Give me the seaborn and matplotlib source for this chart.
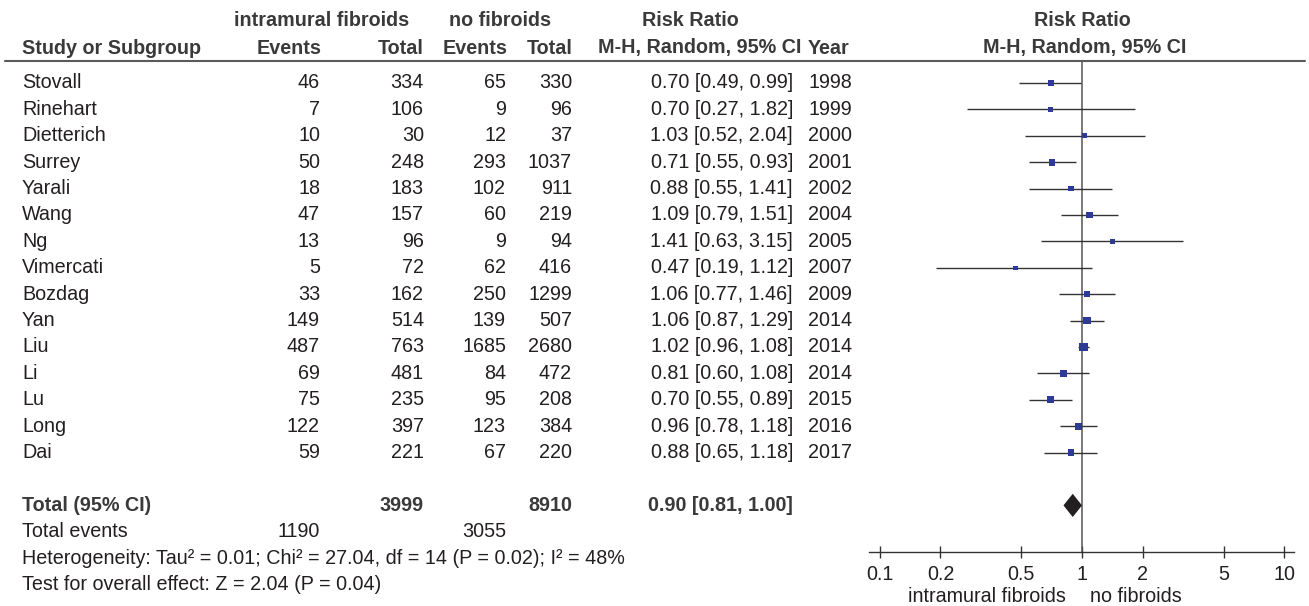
import numpy as np
import pandas as pd
import matplotlib
matplotlib.use("Agg")
import matplotlib.pyplot as plt
import seaborn as sns

# ---- study data -------------------------------------------------------
studies = ["Stovall", "Rinehart", "Dietterich", "Surrey", "Yarali", "Wang", "Ng",
           "Vimercati", "Bozdag", "Yan", "Liu", "Li", "Lu", "Long", "Dai"]
events_fib = [46, 7, 10, 50, 18, 47, 13, 5, 33, 149, 487, 69, 75, 122, 59]
total_fib = [334, 106, 30, 248, 183, 157, 96, 72, 162, 514, 763, 481, 235, 397, 221]
events_nofib = [65, 9, 12, 293, 102, 60, 9, 62, 250, 139, 1685, 84, 95, 123, 67]
total_nofib = [330, 96, 37, 1037, 911, 219, 94, 416, 1299, 507, 2680, 472, 208, 384, 220]
rr = [0.70, 0.70, 1.03, 0.71, 0.88, 1.09, 1.41, 0.47, 1.06, 1.06, 1.02, 0.81, 0.70, 0.96, 0.88]
ci_low = [0.49, 0.27, 0.52, 0.55, 0.55, 0.79, 0.63, 0.19, 0.77, 0.87, 0.96, 0.60, 0.55, 0.78, 0.65]
ci_high = [0.99, 1.82, 2.04, 0.93, 1.41, 1.51, 3.15, 1.12, 1.46, 1.29, 1.08, 1.08, 0.89, 1.18, 1.18]
years = [1998, 1999, 2000, 2001, 2002, 2004, 2005, 2007, 2009, 2014, 2014, 2014, 2015, 2016, 2017]

pooled_rr = 0.90
pooled_low = 0.81
pooled_high = 1.00
tau2 = 0.01
heterogeneity = "Heterogeneity: Tau² = 0.01; Chi² = 27.04, df = 14 (P = 0.02); I² = 48%"
overall_test = "Test for overall effect: Z = 2.04 (P = 0.04)"

tick_values = [0.1, 0.2, 0.5, 1, 2, 5, 10]
tick_labels = ["0.1", "0.2", "0.5", "1", "2", "5", "10"]
favours_left = "intramural fibroids"
favours_right = "no fibroids"

df = pd.DataFrame({"study": studies, "rr": rr, "lo": ci_low, "hi": ci_high})
df["row"] = np.arange(len(df))
# random-effects weights from the CI widths -> square size
se = (np.log(df["hi"]) - np.log(df["lo"])) / 3.92
df["w"] = 1.0 / (se ** 2 + tau2)
side_px = 3.4 + 0.55 * np.sqrt(df["w"])
df["area"] = (side_px * 0.72) ** 2

# ---- figure ----------------------------------------------------------
sns.set_theme(style="white")
plt.rcParams["font.family"] = ["Liberation Sans", "DejaVu Sans"]

W, H = 1309, 606
fig = plt.figure(figsize=(W / 100, H / 100), dpi=100)

FS = 14.25
TXT = "#231f20"
HDR = "#3a3a3a"
ROW0, ROWH = 83.0, 26.4
LINE_Y = 61.0
AXIS_Y = 552.0


def fy(px):
    return 1 - px / H


def fx(px):
    return px / W


def row_y(i):
    return fy(ROW0 + ROWH * i)


def put(x, i, s, ha="right", bold=False, color=TXT, y=None):
    fig.text(fx(x), row_y(i) if y is None else fy(y), s, ha=ha, va="center",
             fontsize=FS, fontweight="bold" if bold else "normal", color=color)


# column headers
put(322, 0, "intramural fibroids", ha="center", bold=True, color=HDR, y=21)
put(500, 0, "no fibroids", ha="center", bold=True, color=HDR, y=21)
put(690, 0, "Risk Ratio", ha="center", bold=True, color=HDR, y=21)
put(1082, 0, "Risk Ratio", ha="center", bold=True, color=HDR, y=21)
put(22, 0, "Study or Subgroup", ha="left", bold=True, color=HDR, y=48)
put(322, 0, "Events", bold=True, color=HDR, y=48)
put(424, 0, "Total", bold=True, color=HDR, y=48)
put(507, 0, "Events", bold=True, color=HDR, y=48)
put(573, 0, "Total", bold=True, color=HDR, y=48)
put(598, 0, "M-H, Random, 95% CI", ha="left", bold=True, color=HDR, y=48)
put(808, 0, "Year", ha="left", bold=True, color=HDR, y=48)
put(1085, 0, "M-H, Random, 95% CI", ha="center", bold=True, color=HDR, y=48)

# header rule
fig.add_artist(plt.Line2D([fx(5), fx(1305)], [fy(LINE_Y), fy(LINE_Y)],
                          color="#5a5a5a", lw=1.5))

# study rows
for i in range(len(studies)):
    put(22, i, studies[i], ha="left")
    put(320, i, str(events_fib[i]))
    put(424, i, str(total_fib[i]))
    put(506, i, str(events_nofib[i]))
    put(572, i, str(total_nofib[i]))
    put(793, i, f"{rr[i]:.2f} [{ci_low[i]:.2f}, {ci_high[i]:.2f}]")
    put(852, i, str(years[i]))

# totals
n = len(studies)
tot_row = n + 1
put(22, tot_row, "Total (95% CI)", ha="left", bold=True, color=HDR)
put(424, tot_row, str(sum(total_fib)), bold=True, color=HDR)
put(572, tot_row, str(sum(total_nofib)), bold=True, color=HDR)
put(793, tot_row, f"{pooled_rr:.2f} [{pooled_low:.2f}, {pooled_high:.2f}]", bold=True, color=HDR)
put(22, tot_row + 1, "Total events", ha="left")
put(320, tot_row + 1, str(sum(events_fib)))
put(506, tot_row + 1, str(sum(events_nofib)))
put(22, tot_row + 2, heterogeneity, ha="left")
put(22, tot_row + 3, overall_test, ha="left")

# ---- forest plot -----------------------------------------------------
ax_l, ax_r = 869, 1294
ax = fig.add_axes([fx(ax_l), fy(AXIS_Y), (ax_r - ax_l) / W, (AXIS_Y - LINE_Y) / H])
ax.set_xscale("log")
ax.set_xlim(10 ** -1.052, 10 ** 1.047)
ax.set_ylim((AXIS_Y - ROW0) / ROWH, (LINE_Y - ROW0) / ROWH)

ax.axvline(1, color="#555555", lw=1.1, zorder=1)
ax.hlines(df["row"], df["lo"], df["hi"], color="#333333", lw=1.0, zorder=2)
sns.scatterplot(data=df, x="rr", y="row", size="area",
                sizes=(df["area"].min(), df["area"].max()),
                marker="s", color="#2e3a96", linewidth=0, legend=False,
                ax=ax, zorder=3)

# pooled estimate diamond
dh = 0.44
ax.fill([pooled_low, pooled_rr, pooled_high, pooled_rr],
        [tot_row, tot_row - dh, tot_row, tot_row + dh],
        color="#231f20", lw=0, zorder=4)

for s in ["left", "right", "top"]:
    ax.spines[s].set_visible(False)
ax.spines["bottom"].set_color("#333333")
ax.spines["bottom"].set_linewidth(1.0)
ax.set_yticks([])
ax.set_xticks(tick_values)
ax.set_xticklabels(tick_labels)
ax.xaxis.set_minor_locator(matplotlib.ticker.NullLocator())
ax.tick_params(axis="x", direction="inout", length=8, width=1.0, colors="#333333",
               labelsize=FS, labelcolor=TXT, pad=5, bottom=True)
ax.set_xlabel("")
ax.set_ylabel("")

fig.text(fx(1066), fy(597), favours_left, ha="right", va="center", fontsize=FS, color=TXT)
fig.text(fx(1090), fy(597), favours_right, ha="left", va="center", fontsize=FS, color=TXT)

fig.savefig("out.png", dpi=100)
